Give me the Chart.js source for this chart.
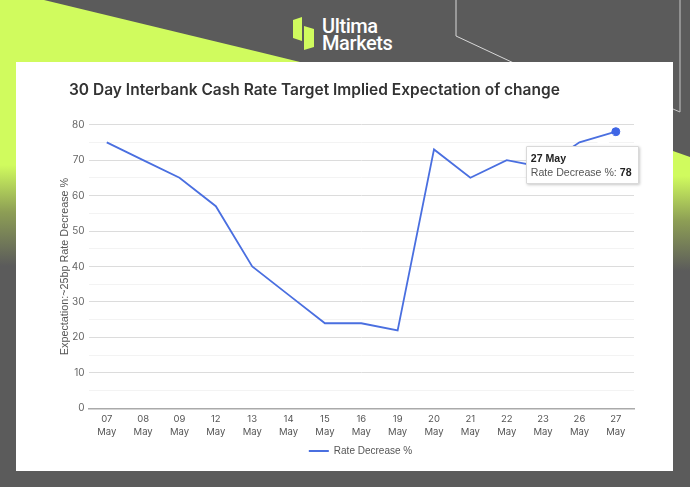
<!DOCTYPE html>
<html><head><meta charset="utf-8">
<style>
html,body{margin:0;padding:0;width:690px;height:487px;overflow:hidden;background:#5b5b5b;font-family:Inter,"Liberation Sans",sans-serif}
.abs{position:absolute}
#lime{left:0;top:0;width:690px;height:487px;background:#d0fb5e;clip-path:polygon(0 0,44px 0,300px 62px,0 62px)}
#leftBand{left:0;top:62px;width:16px;height:204px;background:linear-gradient(#d0fb5e 0,#d0fb5e 103px,#8d9e55 150px,#5b5b5b 204px)}
#rightBand{left:673px;top:151px;width:17px;height:120px;background:linear-gradient(#d0fb5e 0,#d0fb5e 25px,#8d9e55 70px,#5b5b5b 120px);clip-path:polygon(0 0,17px 6px,17px 120px,0 120px)}
#card{left:16px;top:62px;width:657px;height:409px;background:#fff}
#logoTop{left:322px;top:14px;color:#fff;font:500 20px/24px "Roboto";letter-spacing:-.4px}
#logoBot{left:322px;top:31px;color:#fff;font:500 20px/24px "Roboto";letter-spacing:-.4px}
#deco{left:0;top:0}
canvas#c{position:absolute;left:16px;top:62px}
#tip{position:absolute;background:#fff;border:1px solid #d9d9d9;box-shadow:1px 1px 3px rgba(0,0,0,.22);box-sizing:border-box;padding:4px 0 0 4px;font:10.6px/14px "Liberation Sans",Arial,sans-serif;color:#555;white-space:nowrap;border-radius:1px}
#tip b{color:#222}
#caret{position:absolute;background:#fff}
</style></head><body>
<div class="abs" id="lime"></div>
<div class="abs" id="leftBand"></div>
<div class="abs" id="rightBand"></div>
<svg class="abs" id="deco" width="690" height="487"><polyline points="456,0 456,36 533,72" fill="none" stroke="#d8d8d8" stroke-width="1"/><polyline points="680,0 680,112 673,109" fill="none" stroke="#c8c8c8" stroke-width="1"/>
<polygon points="293,20 302,17 302,41 293,38" fill="#d0fb5e"/><polygon points="304,26 314,29 314,47 304,50" fill="#d0fb5e"/></svg>
<div class="abs" id="card"></div>
<div class="abs" id="logoTop">Ultima</div><div class="abs" id="logoBot">Markets</div>
<canvas id="c" width="657" height="409"></canvas>
<div id="caret"></div>
<div id="tip"></div>
<script src="https://cdn.jsdelivr.net/npm/chart.js@4/dist/chart.umd.min.js"></script>
<script>
const days = ["07","08","09","12","13","14","15","16","19","20","21","22","23","26","27"];
const month = "May";
const categories = days.map(d => [d, month]);
const seriesName = "Rate Decrease %";
const rateDecrease = [75,70,65,57,40,32,24,24,22,73,65,70,68,75,78];
const yTitle = "Expectation:~25bp Rate Decrease %";
const chartTitle = "30 Day Interbank Cash Rate Target Implied Expectation of change";

function externalTip(ctx){
  const t = ctx.tooltip, tip = document.getElementById('tip'), caret = document.getElementById('caret');
  if(!t.dataPoints || !t.dataPoints.length) return;
  const p = t.dataPoints[0];
  tip.innerHTML = '<b>'+p.label.replace(',',' ')+'</b><br>'+p.dataset.label+': <b>'+p.formattedValue+'</b>';
  const x = 16 + t.caretX, y = 62 + t.caretY;
  tip.style.left = (x-90)+'px'; tip.style.top = (y+14)+'px'; tip.style.width='113px'; tip.style.height='38px';
  caret.style.left=(x-28)+'px'; caret.style.top=(y+2)+'px'; caret.style.width='26px'; caret.style.height='14px';
  caret.style.clipPath='polygon(100% 0,0 100%,70% 100%)';
}
const shiftLegend = {id:'shiftLegend',afterLayout(c){c.legend.left+=9;c.legend.right+=9;}};
const chart = new Chart(document.getElementById('c'),{
  type:'line',
  plugins:[shiftLegend],
  data:{labels:categories,datasets:[{label:seriesName,data:rateDecrease,borderColor:'#4a6fe0',backgroundColor:'#4a6fe0',borderWidth:1.8,pointRadius:0,pointHoverRadius:4,pointHoverBackgroundColor:'#3f66e6',pointHoverBorderColor:'#3f66e6',tension:0,clip:false}]},
  options:{
    responsive:false,animation:false,
    layout:{padding:{left:53,right:39,top:19,bottom:5}},
    plugins:{
      title:{display:true,text:chartTitle,align:'start',color:'#333',font:{family:'Inter',size:15.5,weight:'600'},padding:{top:0,bottom:25}},
      legend:{position:'bottom',labels:{color:'#555',font:{family:'Liberation Sans',size:10},boxWidth:20,boxHeight:0,padding:3,
        generateLabels:c=>[{text:seriesName,strokeStyle:'#4a6fe0',fillStyle:'#4a6fe0',lineWidth:2,fontColor:'#555'}]}},
      tooltip:{enabled:false,external:externalTip}
    },
    scales:{
      x:{offset:true,grid:{display:false,drawTicks:false},border:{color:'#aaa',width:1.5},ticks:{color:'#555',font:{family:'Inter',size:9.5,lineHeight:1.4},maxRotation:0,autoSkip:false,padding:4}},
      y:{min:0,max:80,title:{display:true,text:yTitle,color:'#555',font:{family:'Liberation Sans',size:10.8,lineHeight:1},padding:{top:-9,bottom:-3}},
        ticks:{stepSize:5,color:'#666',font:{family:'Inter',size:10},padding:4,callback:v=>v%10===0?v:''},
        border:{display:false},
        grid:{color:c=>c.tick.value===0?'#aaa':(c.tick.value%10===0?'#dcdcdc':'#f3f3f3'),lineWidth:1,drawTicks:false}}
    }
  }
});
const last = rateDecrease.length-1;
const el = [{datasetIndex:0,index:last}];
chart.setActiveElements(el);
chart.tooltip.setActiveElements(el,{x:0,y:0});
chart.update();
</script>
</body></html>
